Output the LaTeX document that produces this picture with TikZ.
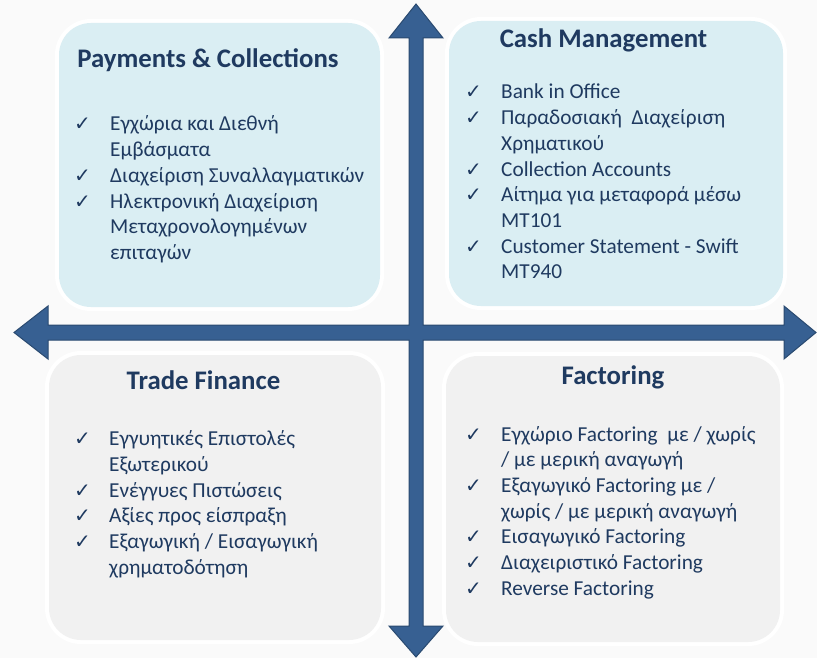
\documentclass[tikz,border=0pt]{standalone}
\usepackage{fontspec}
\setmainfont{Carlito}
\newfontfamily\symfont{DejaVu Sans}
\usetikzlibrary{positioning}
\definecolor{bgc}{HTML}{FAFAFA}
\definecolor{bluefill}{HTML}{DAEEF3}
\definecolor{grayfill}{HTML}{F1F1F1}
\definecolor{arrowfill}{HTML}{376092}
\definecolor{arrowline}{HTML}{2A4A70}
\definecolor{navy}{HTML}{1F3A60}
\newcommand{\ck}{{\symfont\fontsize{20}{20}\selectfont ✓}}
\tikzset{
  quad/.style={rounded corners=32pt, inner sep=0pt, draw=none,
    preaction={draw=white, line width=8pt}},
  bluebox/.style={quad, fill=bluefill},
  graybox/.style={quad, fill=grayfill},
  titletext/.style={inner sep=0pt, anchor=base, text=navy,
    font=\fontsize{26.8}{30}\selectfont\bfseries},
  itemtext/.style={inner sep=0pt, anchor=base west, text=navy,
    font=\fontsize{21.3}{25.7}\selectfont},
  axis/.style={fill=arrowfill, draw=arrowline, line width=1pt, line join=miter}
}
\begin{document}
\begin{tikzpicture}[x=1pt,y=-1pt]
\fill[bgc] (0,0) rectangle (817,658);
\useasboundingbox (0,0) rectangle (817,658);

% quadrant boxes
\node[bluebox, minimum width=321pt, minimum height=284pt] (pc) at (219.5,165) {};
\node[bluebox, minimum width=334pt, minimum height=285pt] (cm) at (616,163.5) {};
\node[graybox, minimum width=332pt, minimum height=285pt] (tf) at (215,497.5) {};
\node[graybox, minimum width=334pt, minimum height=286pt] (fa) at (613,499) {};

% axes (cross with four heads)
\coordinate (o) at (416,332.5);
\draw[axis] (409,38) -- (389,38) -- (416,4) -- (443,38) -- (423,38)
  -- (423,325) -- (784,325) -- (784,306) -- (816,332.5) -- (784,359) -- (784,340)
  -- (423,340) -- (423,626) -- (443,626) -- (416,657) -- (389,626) -- (409,626)
  -- (409,340) -- (48,340) -- (48,359) -- (14,332.5) -- (48,306) -- (48,325)
  -- (409,325) -- cycle;

% titles
\node[titletext] (pct) at (208,68) {Payments \& Collections};
\node[titletext] (cmt) at (603.5,48) {Cash Management};
\node[titletext] (tft) at (203.5,389) {Trade Finance};
\node[titletext] (fat) at (613,384) {Factoring};

% items
\node[itemtext] (pci) at (74,131) {\begin{tabular}[t]{@{}p{36pt}@{}l@{}}
\ck & Εγχώρια και Διεθνή\\
    & Εμβάσματα\\
\ck & Διαχείριση Συναλλαγματικών\\
\ck & Ηλεκτρονική Διαχείριση\\
    & Μεταχρονολογημένων\\
    & επιταγών
\end{tabular}};

\node[itemtext] (cmi) at (465,99) {\begin{tabular}[t]{@{}p{36pt}@{}l@{}}
\ck & Bank in Office\\
\ck & Παραδοσιακή~ Διαχείριση\\
    & Χρηματικού\\
\ck & Collection Accounts\\
\ck & Αίτημα για μεταφορά μέσω\\
    & MT101\\
\ck & Customer Statement - Swift\\
    & MT940
\end{tabular}};

\node[itemtext] (tfi) at (74,445.7) {\begin{tabular}[t]{@{}p{35pt}@{}l@{}}
\ck & Εγγυητικές Επιστολές\\
    & Εξωτερικού\\
\ck & Ενέγγυες Πιστώσεις\\
\ck & Αξίες προς είσπραξη\\
\ck & Εξαγωγική / Εισαγωγική\\
    & χρηματοδότηση
\end{tabular}};

\node[itemtext] (fai) at (465,441) {\begin{tabular}[t]{@{}p{36pt}@{}l@{}}
\ck & Εγχώριο Factoring~ με / χωρίς\\
    & / με μερική αναγωγή\\
\ck & Εξαγωγικό Factoring με /\\
    & χωρίς / με μερική αναγωγή\\
\ck & Εισαγωγικό Factoring\\
\ck & Διαχειριστικό Factoring\\
\ck & Reverse Factoring
\end{tabular}};
\end{tikzpicture}
\end{document}
